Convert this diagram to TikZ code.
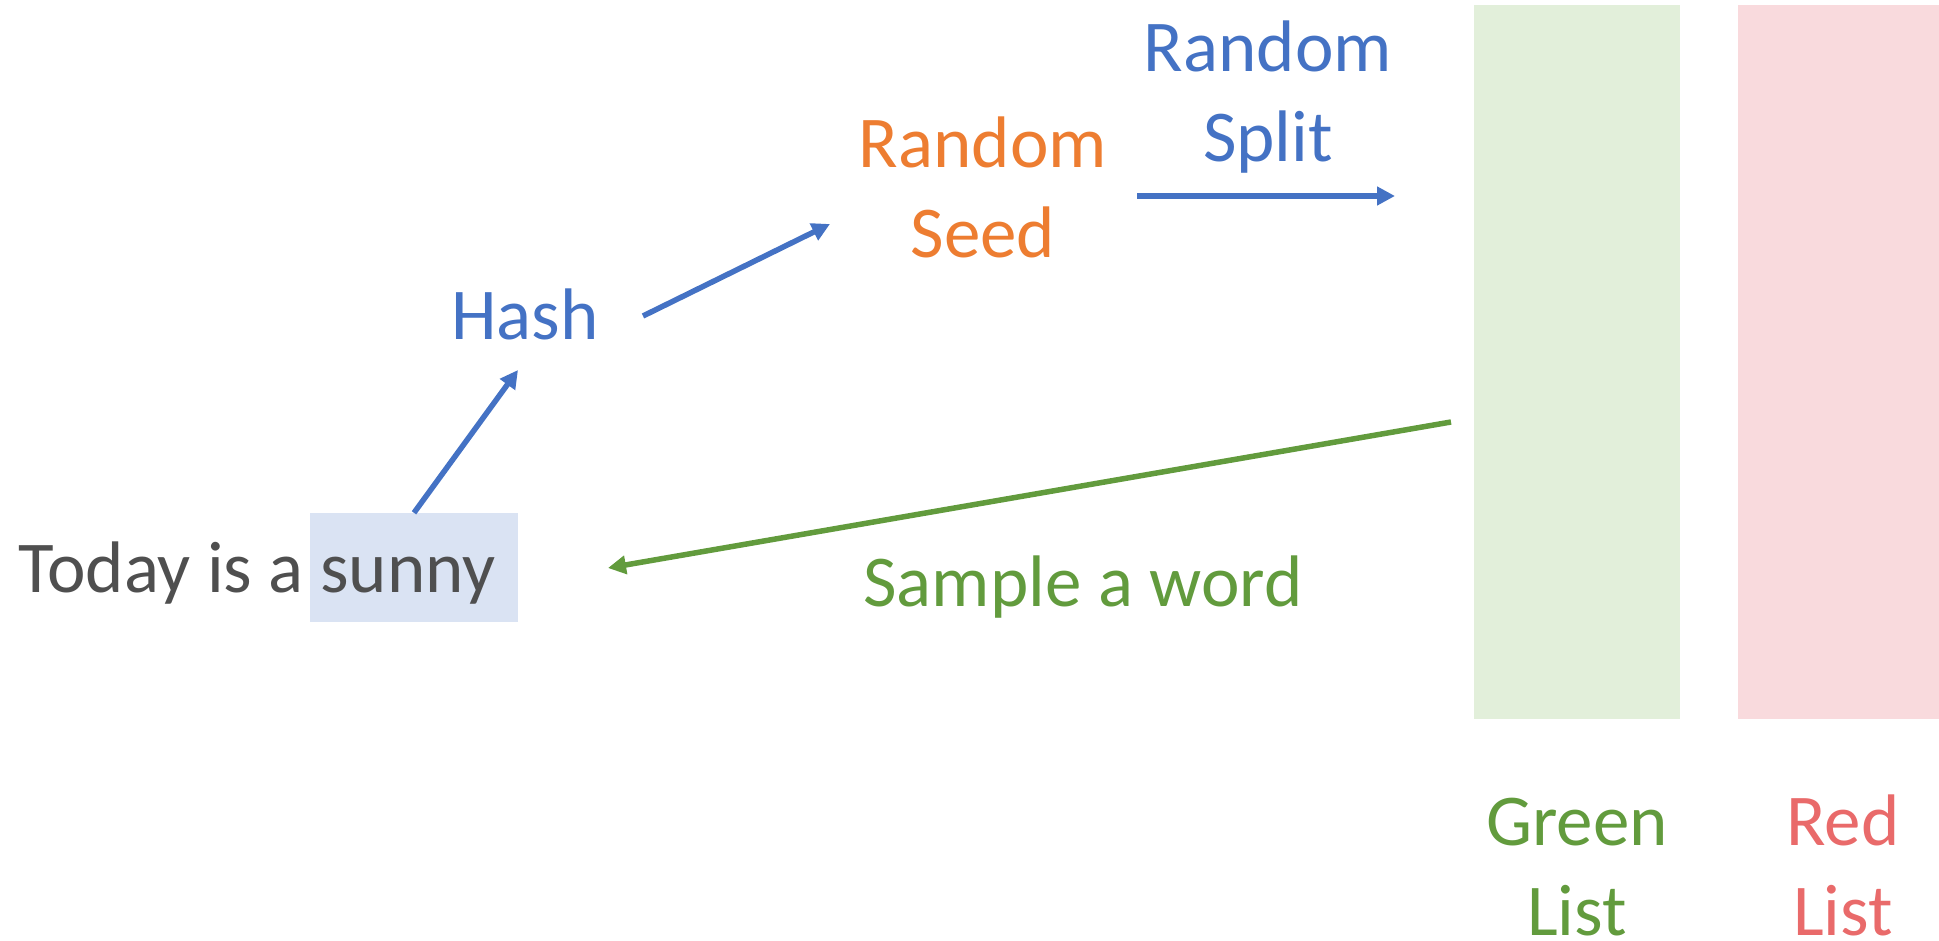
\documentclass[tikz,border=0pt]{standalone}
\usepackage{fontspec}
\setmainfont{Carlito}
\usetikzlibrary{arrows.meta}
\definecolor{cblue}{HTML}{4472C4}
\definecolor{corange}{HTML}{ED7D31}
\definecolor{cgreen}{HTML}{629B3D}
\definecolor{cred}{HTML}{E96A6A}
\definecolor{cgray}{HTML}{4F4F4F}
\definecolor{fgreen}{HTML}{E2EFDA}
\definecolor{fred}{HTML}{F9DADD}
\definecolor{fblue}{HTML}{DAE3F3}
\tikzset{
  lbl/.style={font=\fontsize{73}{90}\selectfont, inner sep=0pt, align=center},
  conn/.style={line width=5.5pt, -{Triangle[length=18pt,width=18pt]}},
  listbox/.style={draw=none, inner sep=0pt, anchor=north west}
}
\begin{document}
\begin{tikzpicture}[x=1pt,y=-1pt]
\useasboundingbox (0,0) rectangle (1939,941);
% list rectangles
\node[listbox, fill=fgreen, minimum width=206pt, minimum height=714pt] (green) at (1474,5) {};
\node[listbox, fill=fred, minimum width=201pt, minimum height=714pt] (red) at (1738,5) {};
% highlight box
\node[fill=fblue, inner sep=0pt, minimum width=208pt, minimum height=109pt] (sunny) at (414,567.5) {};
% texts (base anchor = baseline of the last line)
\node[lbl, text=cgray, anchor=base west] (sentence) at (18,592) {Today is a sunny};
\node[lbl, text=cblue, anchor=base] (hash) at (525,340) {Hash};
\node[lbl, text=corange, anchor=base] (seed) at (983,258) {Random\\Seed};
\node[lbl, text=cblue, anchor=base] (split) at (1268,162) {Random\\Split};
\node[lbl, text=cgreen, anchor=base] (sample) at (1083,606) {Sample a word};
\node[lbl, text=cgreen, anchor=base] (greenlbl) at (1577,935) {Green\\List};
\node[lbl, text=cred, anchor=base] (redlbl) at (1843,935) {Red\\List};
% connector end points
\coordinate (hashin) at (518,370);
\coordinate (hashout) at (643,316);
\coordinate (seedin) at (830,224);
\coordinate (splitout) at (1137,196);
\coordinate (listin) at (1395,196);
\coordinate (greenout) at (1451,422);
\coordinate (wordin) at (608,568);
% connectors
\draw[conn, cblue] (sunny.north) -- (hashin);
\draw[conn, cblue] (hashout) -- (seedin);
\draw[conn, cblue] (splitout) -- (listin);
\draw[conn, cgreen] (greenout) -- (wordin);
\end{tikzpicture}
\end{document}
